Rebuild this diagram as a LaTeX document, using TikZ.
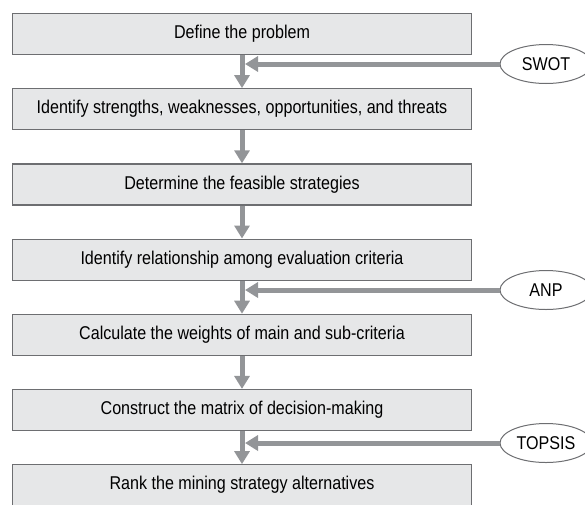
\documentclass[tikz,border=0pt]{standalone}
\usepackage{fontspec}
\setmainfont[FakeStretch=0.87]{Liberation Sans}
\usetikzlibrary{arrows.meta,positioning,shapes.geometric}
\definecolor{boxfill}{HTML}{E6E7E8}
\definecolor{boxline}{HTML}{6D6E71}
\definecolor{arrowgray}{HTML}{939598}
\tikzset{
	stepbox/.style={draw=boxline, line width=1.2pt, fill=boxfill, minimum width=459pt, minimum height=41pt, inner sep=0pt, font=\fontsize{18.5}{21}\selectfont},
	tool/.style={ellipse, draw=boxline, line width=1pt, fill=white, minimum width=92pt, minimum height=39pt, inner sep=0pt, font=\fontsize{18.5}{21}\selectfont},
	flow/.style={arrowgray, line width=5pt, -{Triangle[width=15pt,length=13pt]}},
}
\begin{document}
\begin{tikzpicture}[x=1pt, y=-1pt, node distance=33pt]
	\useasboundingbox (0,0) rectangle (585,504);
	% main steps
	\node[stepbox] (b1) at (242,34) {Define the problem};
	\node[stepbox, below=of b1] (b2) {Identify strengths, weaknesses, opportunities, and threats};
	\node[stepbox, below=of b2] (b3) {Determine the feasible strategies};
	\node[stepbox, below=of b3] (b4) {Identify relationship among evaluation criteria};
	\node[stepbox, below=of b4] (b5) {Calculate the weights of main and sub-criteria};
	\node[stepbox, below=of b5] (b6) {Construct the matrix of decision-making};
	\node[stepbox, below=of b6] (b7) {Rank the mining strategy alternatives};
	% methods
	\node[tool] (swot)   at (546,64)  {SWOT};
	\node[tool] (anp)    at (546,290) {ANP};
	\node[tool] (topsis) at (546,443) {TOPSIS};
	\coordinate (j1) at ([xshift=3pt]b1.south |- swot.west);
	\coordinate (j4) at ([xshift=3pt]b4.south |- anp.west);
	\coordinate (j6) at ([xshift=3pt]b6.south |- topsis.west);
	% arrows
	\draw[flow] (b1) -- (b2);
	\draw[flow] (b2) -- (b3);
	\draw[flow] (b3) -- (b4);
	\draw[flow] (b4) -- (b5);
	\draw[flow] (b5) -- (b6);
	\draw[flow] (b6) -- (b7);
	\draw[flow] (swot) -- (j1);
	\draw[flow] (anp) -- (j4);
	\draw[flow] (topsis) -- (j6);
\end{tikzpicture}
\end{document}
